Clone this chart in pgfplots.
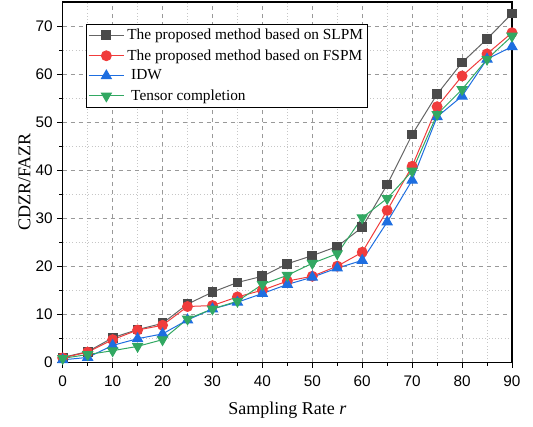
\documentclass[border=0pt]{standalone}
\usepackage{pgfplots}
\pgfplotsset{compat=1.18}
\usepackage{fontspec}
\setmainfont{Liberation Serif}
\newfontfamily\ticksf{Liberation Sans}
\definecolor{cblack}{HTML}{4A4A4A}
\definecolor{cred}{HTML}{F03C3C}
\definecolor{cblue}{HTML}{1E6EE0}
\definecolor{cgreen}{HTML}{32A862}
\begin{document}
\begin{tikzpicture}
\begin{axis}[
  scale only axis,
  width=336.75pt, height=270pt,
  xmin=0, xmax=90, ymin=0, ymax=75,
  xtick={0,10,...,90}, ytick={0,10,...,70},
  minor tick num=1,
  tick align=outside,
  xtick pos=left, ytick pos=left,
  major tick length=4pt, minor tick length=2.5pt,
  axis line style={black, line width=0.8pt},
  every tick/.style={black, line width=0.6pt},
  grid=both,
  major grid style={gray!80, dashed, line width=0.5pt},
  minor grid style={gray!45, dotted, line width=0.5pt},
  /pgf/number format/assume math mode=true,
  ticklabel style={font=\ticksf\fontsize{11.5}{13}\selectfont},
  xticklabel style={yshift=-2.5pt},
  xlabel={Sampling Rate \textit{r}},
  ylabel={CDZR/FAZR},
  label style={font=\fontsize{13.5}{16}\selectfont},
  xlabel style={at={(axis description cs:0.5,-0.133)}, anchor=center},
  ylabel style={at={(axis description cs:-0.085,0.5)}, anchor=center},
  legend style={at={(0.051,0.939)}, anchor=north west, draw=black, line width=0.6pt, fill=white,
    font=\fontsize{11.5}{13.5}\selectfont, row sep=1.8pt, inner sep=1.5pt},
  legend cell align=left,
  legend image code/.code={\draw[mark repeat=2,mark phase=2] plot coordinates {(0cm,0cm) (0.47cm,0cm) (0.94cm,0cm)};},
  every axis plot/.append style={line width=0.75pt},
]
\addplot[color=cblack!85, mark=square*, mark size=3.3pt, mark options={fill=cblack, draw=cblack, solid}] coordinates {
(0,1.0) (5,2.2) (10,5.1) (15,6.8) (20,8.1) (25,12.1) (30,14.6) (35,16.6) (40,17.9) (45,20.5)
(50,22.2) (55,24.1) (60,28.1) (65,37.0) (70,47.4) (75,55.8) (80,62.4) (85,67.3) (90,72.6)};
\addlegendentry{The proposed method based on SLPM}
\addplot[color=cred, mark=*, mark size=3.7pt, mark options={fill=cred, draw=cred}] coordinates {
(0,0.9) (5,2.1) (10,4.7) (15,6.7) (20,7.7) (25,11.6) (30,11.8) (35,13.6) (40,15.0) (45,16.9)
(50,17.9) (55,20.0) (60,22.9) (65,31.6) (70,40.8) (75,53.2) (80,59.6) (85,64.2) (90,68.6)};
\addlegendentry{The proposed method based on FSPM}
\addplot[color=cblue, mark=triangle*, mark size=4.3pt, mark options={fill=cblue, draw=cblue}] coordinates {
(0,0.5) (5,1.0) (10,3.5) (15,4.9) (20,5.9) (25,8.8) (30,11.1) (35,12.5) (40,14.3) (45,16.2)
(50,17.7) (55,19.6) (60,21.2) (65,29.2) (70,37.9) (75,51.1) (80,55.4) (85,63.1) (90,65.7)};
\addlegendentry{\ IDW}
\addplot[color=cgreen, mark=triangle*, mark size=4.3pt, mark options={fill=cgreen, draw=cgreen, rotate=180}] coordinates {
(0,0.8) (5,1.6) (10,2.4) (15,3.3) (20,4.7) (25,9.0) (30,11.1) (35,12.7) (40,16.2) (45,18.1)
(50,20.6) (55,22.6) (60,30.1) (65,34.1) (70,39.8) (75,51.6) (80,56.8) (85,63.1) (90,67.9)};
\addlegendentry{\ Tensor completion}
\end{axis}
\path ([shift={(-47pt,-48pt)}]current axis.south west) rectangle ([shift={(15.75pt,1.5pt)}]current axis.north east);
\end{tikzpicture}
\end{document}
